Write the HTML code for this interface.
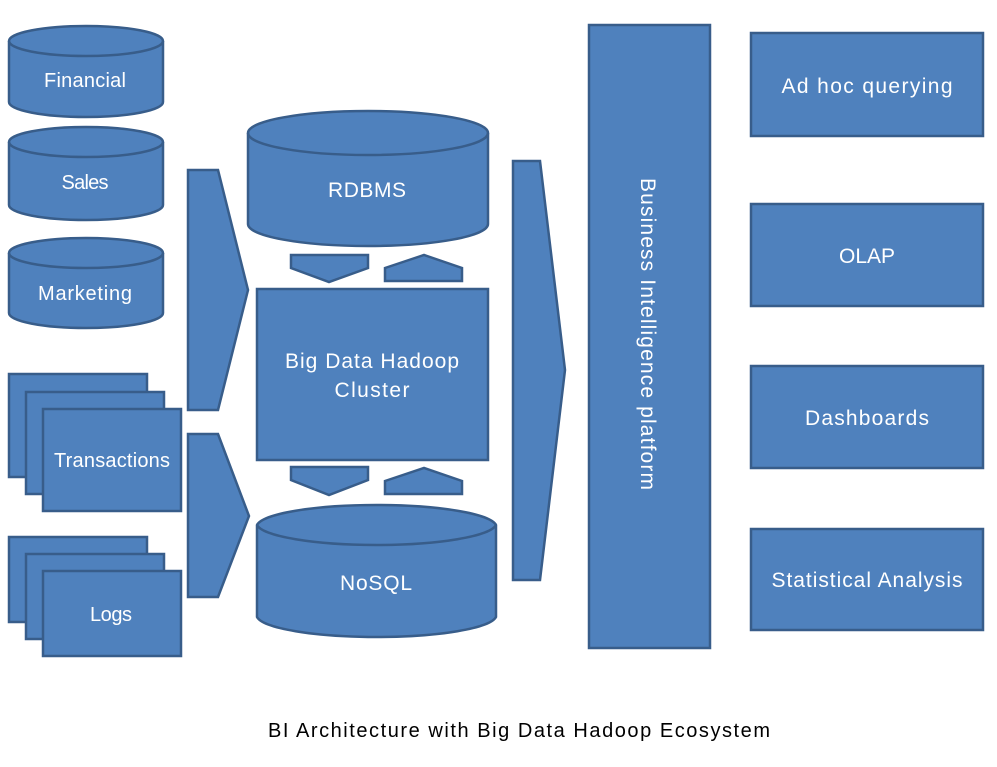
<!DOCTYPE html>
<html><head><meta charset="utf-8"><style>
html,body{margin:0;padding:0;background:#fff;}
svg{display:block;}
text{font-family:"Liberation Sans",sans-serif;fill:#fff;}
</style></head><body>
<svg width="997" height="767" viewBox="0 0 997 767" xmlns="http://www.w3.org/2000/svg">
<g fill="#4f81bd" stroke="#385d8a" stroke-width="2.5">
<path d="M9,41 A77,15 0 0 1 163,41 L163,102 A77,15 0 0 1 9,102 Z"/><path d="M9,41 A77,15 0 0 0 163,41" fill="none"/>
<path d="M9,142 A77,15 0 0 1 163,142 L163,205 A77,15 0 0 1 9,205 Z"/><path d="M9,142 A77,15 0 0 0 163,142" fill="none"/>
<path d="M9,253 A77,15 0 0 1 163,253 L163,313 A77,15 0 0 1 9,313 Z"/><path d="M9,253 A77,15 0 0 0 163,253" fill="none"/>
<rect x="9" y="374" width="138" height="103"/><rect x="26" y="392" width="138" height="102"/><rect x="43" y="409" width="138" height="102"/>
<rect x="9" y="537" width="138" height="85"/><rect x="26" y="554" width="138" height="85"/><rect x="43" y="571" width="138" height="85"/>
<polygon points="188,170 218,170 248,290 218,410 188,410"/>
<polygon points="188,434 218,434 249,516 218,597 188,597"/>
<path d="M248,133 A120,22 0 0 1 488,133 L488,224 A120,22 0 0 1 248,224 Z"/><path d="M248,133 A120,22 0 0 0 488,133" fill="none"/>
<polygon points="291,255 368,255 368,268 329,282 291,268"/>
<polygon points="385,268 424,255 462,268 462,281 385,281"/>
<rect x="257" y="289" width="231" height="171"/>
<polygon points="291,467 368,467 368,480 329,495 291,480"/>
<polygon points="385,481 424,468 462,481 462,494 385,494"/>
<path d="M257,525 A120,22 0 0 1 496,525 L496,617 A120,22 0 0 1 257,617 Z"/><path d="M257,525 A120,22 0 0 0 496,525" fill="none"/>
<polygon points="513,161 540,161 565,370 540,580 513,580"/>
<rect x="589" y="25" width="121" height="623"/>
<rect x="751" y="33" width="232" height="103"/>
<rect x="751" y="204" width="232" height="102"/>
<rect x="751" y="366" width="232" height="102"/>
<rect x="751" y="529" width="232" height="101"/>
</g>
<g font-size="20" text-anchor="middle">
<text x="85" y="87" textLength="82">Financial</text>
<text x="85" y="189" textLength="47">Sales</text>
<text x="85" y="300" textLength="94">Marketing</text>
<text x="112" y="467" textLength="116">Transactions</text>
<text x="111" y="621" textLength="42">Logs</text>
<text x="367" y="197" font-size="21" textLength="78">RDBMS</text>
<text x="372" y="368" font-size="21" textLength="174">Big Data Hadoop</text>
<text x="372" y="397" font-size="21" textLength="75">Cluster</text>
<text x="376" y="590" font-size="21" textLength="72">NoSQL</text>
<text x="0" y="0" font-size="21" textLength="312" transform="translate(641,334) rotate(90)">Business Intelligence platform</text>
<text x="867" y="93" font-size="21" textLength="171">Ad hoc querying</text>
<text x="867" y="263" font-size="21" textLength="56">OLAP</text>
<text x="867" y="425" font-size="21" textLength="124">Dashboards</text>
<text x="867" y="587" font-size="21" textLength="191">Statistical Analysis</text>
<text x="519" y="737" font-size="20" textLength="502" style="fill:#000">BI Architecture with Big Data Hadoop Ecosystem</text>
</g>
</svg>
</body></html>
